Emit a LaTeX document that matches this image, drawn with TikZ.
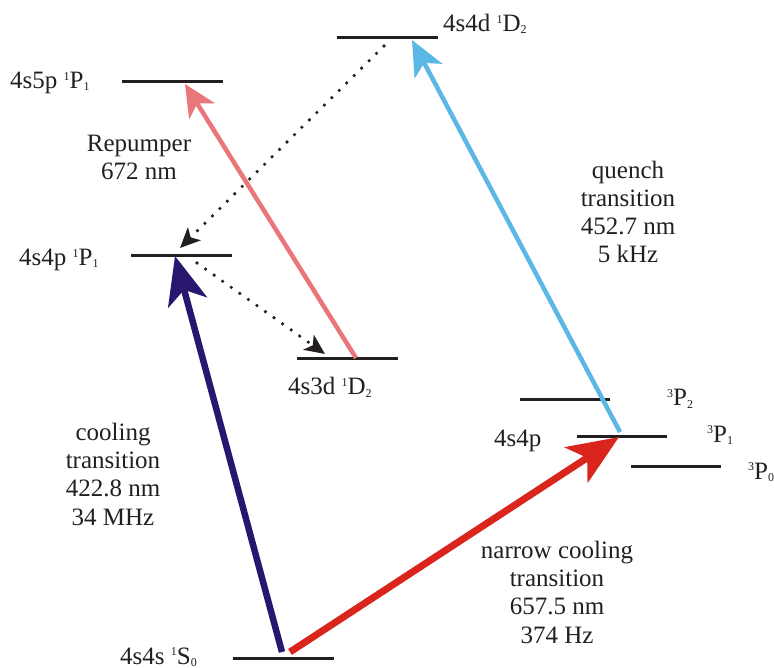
\documentclass[tikz,border=0pt]{standalone}
\usepackage{fontspec}
\setmainfont{Liberation Serif}
\usetikzlibrary{arrows.meta}
\definecolor{navyc}{RGB}{40,22,111}
\definecolor{redc}{RGB}{218,37,29}
\definecolor{skyc}{RGB}{91,183,229}
\definecolor{pinkc}{RGB}{232,118,122}
\definecolor{inkc}{RGB}{35,31,32}
\newcommand{\supx}[1]{\raisebox{8.3pt}{\fontsize{12}{12}\selectfont #1}}
\newcommand{\subx}[1]{\raisebox{-2pt}{\fontsize{12}{12}\selectfont #1}}
\begin{document}
\begin{tikzpicture}[x=1pt,y=-1pt,
  level/.style={line width=3pt, inkc},
  lbl/.style={inner sep=0pt, font=\fontsize{25}{28.3}\selectfont, text=inkc},
  lvlabel/.style={lbl, anchor=base west},
  txtblock/.style={lbl, align=center, anchor=base},
  decay/.style={inkc, line width=3.6pt, line cap=round, dash pattern=on 0pt off 10.5pt,
     -{Stealth[length=20pt,width=18pt,inset=5pt]}}]
\useasboundingbox (0,0) rectangle (774,668);
% level coordinates
\coordinate (d4L) at (337,38);  \coordinate (d4R) at (438,38);
\coordinate (p5L) at (122,82);  \coordinate (p5R) at (223,82);
\coordinate (p4L) at (131,256); \coordinate (p4R) at (232,256);
\coordinate (d3L) at (297,359); \coordinate (d3R) at (398,359);
\coordinate (s0L) at (233,658); \coordinate (s0R) at (334,658);
\coordinate (t2L) at (520,399); \coordinate (t2R) at (610,399);
\coordinate (t1L) at (577,436); \coordinate (t1R) at (667,436);
\coordinate (t0L) at (631,466); \coordinate (t0R) at (721,466);
% level lines
\draw[level] (d4L) -- (d4R);
\draw[level] (p5L) -- (p5R);
\draw[level] (p4L) -- (p4R);
\draw[level] (d3L) -- (d3R);
\draw[level] (s0L) -- (s0R);
\draw[level] (t2L) -- (t2R);
\draw[level] (t1L) -- (t1R);
\draw[level] (t0L) -- (t0R);
% arrow end points
\coordinate (s0a) at (282,652); \coordinate (p4t) at (175,256);
\coordinate (s0b) at (290,652); \coordinate (t1t) at (619,437);
\coordinate (t1s) at (620,432); \coordinate (d4t) at (412,40);
\coordinate (d3s) at (356,358); \coordinate (p5t) at (185,84);
\coordinate (d4s) at (384,46);  \coordinate (p4d) at (180,248);
\coordinate (p4s) at (197,263); \coordinate (d3t) at (325,354);
% transitions
\draw[skyc, line width=4.5pt, -{Stealth[length=35pt,width=31pt,inset=9pt]}] (t1s) -- (d4t);
\draw[pinkc, line width=4.5pt, -{Stealth[length=32pt,width=30pt,inset=9pt]}] (d3s) -- (p5t);
\draw[navyc, line width=6.5pt, -{Stealth[length=48pt,width=40pt,inset=13pt]}] (s0a) -- (p4t);
\draw[redc, line width=7pt, -{Stealth[length=51pt,width=42pt,inset=13pt]}] (s0b) -- (t1t);
\draw[decay] (d4s) -- (p4d);
\draw[decay] (p4s) -- (d3t);
% level labels
\node[lvlabel] (ld4) at (443,32) {4s4d \supx{1}D\subx{2}};
\node[lvlabel] (lp5) at (10,89) {4s5p \supx{1}P\subx{1}};
\node[lvlabel] (lp4) at (19,266) {4s4p \supx{1}P\subx{1}};
\node[lvlabel] (ld3) at (288,395) {4s3d \supx{1}D\subx{2}};
\node[lvlabel] (ls0) at (120,664) {4s4s \supx{1}S\subx{0}};
\node[lvlabel] (ltp) at (494,446) {4s4p};
\node[lvlabel] (lt2) at (667,406) {\supx{3}P\subx{2}};
\node[lvlabel] (lt1) at (707,442) {\supx{3}P\subx{1}};
\node[lvlabel] (lt0) at (748,479) {\supx{3}P\subx{0}};
% transition labels (anchored at the baseline of the last line)
\node[txtblock] (trep) at (139,180) {Repumper\\672 nm};
\node[txtblock] (tque) at (628,263) {quench\\transition\\452.7 nm\\5 kHz};
\node[txtblock] (tcool) at (113,525) {cooling\\transition\\422.8 nm\\34 MHz};
\node[txtblock] (tnar) at (557,643) {narrow cooling\\transition\\657.5 nm\\374 Hz};
\end{tikzpicture}
\end{document}
